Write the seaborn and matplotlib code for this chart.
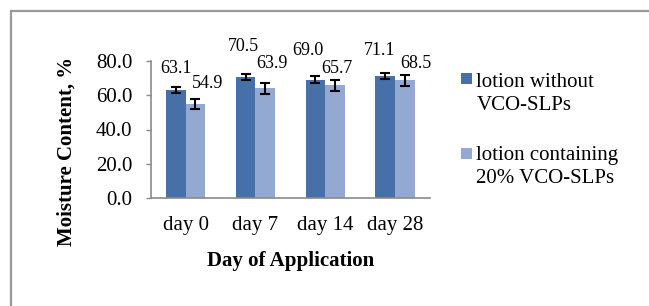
import matplotlib
matplotlib.use("Agg")
import matplotlib.pyplot as plt
from matplotlib.patches import Rectangle
from matplotlib.lines import Line2D
import seaborn as sns
import pandas as pd

# ---- data ----
days = ["day 0", "day 7", "day 14", "day 28"]
series_names = ["lotion without VCO-SLPs", "lotion containing 20% VCO-SLPs"]
without_vals = [63.1, 70.5, 69.0, 71.1]
with_vals = [54.9, 63.9, 65.7, 68.5]
without_err = [1.7, 1.8, 2.0, 2.0]
with_err = [3.0, 3.2, 3.1, 3.1]
yticks = [0, 20, 40, 60, 80]

# ---- layout (label offsets, data units) ----
label_dx = [[0.0, -0.03, -0.11, -0.08], [0.18, 0.09, 0.02, 0.15]]
label_dy = [[9.6, 15.1, 14.3, 12.2], [9.1, 11.7, 7.3, 7.1]]

dark = "#4670A7"
light = "#94A9D1"

sns.set_theme(style="white")
plt.rcParams["font.family"] = ["Liberation Serif", "DejaVu Serif"]

df = pd.DataFrame({
    "day": days * 2,
    "group": [series_names[0]] * 4 + [series_names[1]] * 4,
    "value": without_vals + with_vals,
})

W, H = 649, 306
fig = plt.figure(figsize=(W / 100, H / 100), dpi=100)
fig.patch.set_facecolor("white")
fig.patch.set_linewidth(0)
ax = fig.add_axes([150.7 / W, 1 - 198.3 / H, (430 - 150.7) / W, (198.3 - 60.7) / H])

sns.barplot(data=df, x="day", y="value", hue="group", hue_order=series_names,
            palette=[dark, light], width=0.565, errorbar=None, saturation=1,
            linewidth=0, legend=False, ax=ax)

errs = [without_err, with_err]
vals = [without_vals, with_vals]
bar_containers = list(ax.containers)
for i, cont in enumerate(bar_containers):
    bars = [b for b in cont.patches if b is not None]
    xs = [b.get_x() + b.get_width() / 2 for b in bars]
    hs = [b.get_height() for b in bars]
    ax.errorbar(xs, hs, yerr=errs[i], fmt="none", ecolor="black",
                elinewidth=1.5, capsize=3.4, capthick=1.5, zorder=5)
    for j, (x, h) in enumerate(zip(xs, hs)):
        ax.text(x + label_dx[i][j], h + label_dy[i][j], f"{vals[i][j]:.1f}",
                ha="center", va="baseline", fontsize=13, color="black",
                clip_on=False)

ax.set_ylim(0, 80)
ax.set_xlim(-0.5, 3.5)
ax.set_yticks(yticks)
ax.set_yticklabels([f"{v:.1f}" for v in yticks])
for s in ["top", "right"]:
    ax.spines[s].set_visible(False)
for s in ["left", "bottom"]:
    ax.spines[s].set_color("#8a8a8a")
    ax.spines[s].set_linewidth(1.2)
ax.tick_params(axis="y", direction="out", length=3.6, width=1.0, color="#8a8a8a",
               pad=9.5, labelsize=15, labelcolor="black", left=True)
ax.tick_params(axis="x", length=0, pad=13, labelsize=15, labelcolor="black")

ax.set_xlabel("Day of Application", fontsize=15, fontweight="bold", color="black")
ax.set_ylabel("Moisture Content, %", fontsize=15, fontweight="bold", color="black")
ax.xaxis.set_label_coords(0.5, -0.383)
ax.yaxis.set_label_coords(-0.266, 0.344)

# legend (manual)
def px(x, y):
    return x / W, 1 - y / H

leg = [(dark, 72.7, ["lotion without", "VCO-SLPs"], [86.7, 110.0]),
       (light, 148.3, ["lotion containing", "20% VCO-SLPs"], [160.0, 183.3])]
for color, ytop, lines, bases in leg:
    x0, y0 = px(460.7, ytop + 11)
    fig.add_artist(Rectangle((x0, y0), 11 / W, 11 / H, transform=fig.transFigure,
                             facecolor=color, edgecolor="none"))
    for t, b in zip(lines, bases):
        tx, ty = px(476.5, b)
        fig.text(tx, ty, t, ha="left", va="baseline", fontsize=15, color="black")

# outer frame (left and top edges; the rest lies outside the picture)
fx, fy = px(10.5, 10.5)
fig.add_artist(Line2D([fx, fx, 1.0], [0.0, fy, fy], transform=fig.transFigure,
                      color="#999999", linewidth=1.6, solid_joinstyle="miter"))

fig.savefig("out.png", dpi=100)
